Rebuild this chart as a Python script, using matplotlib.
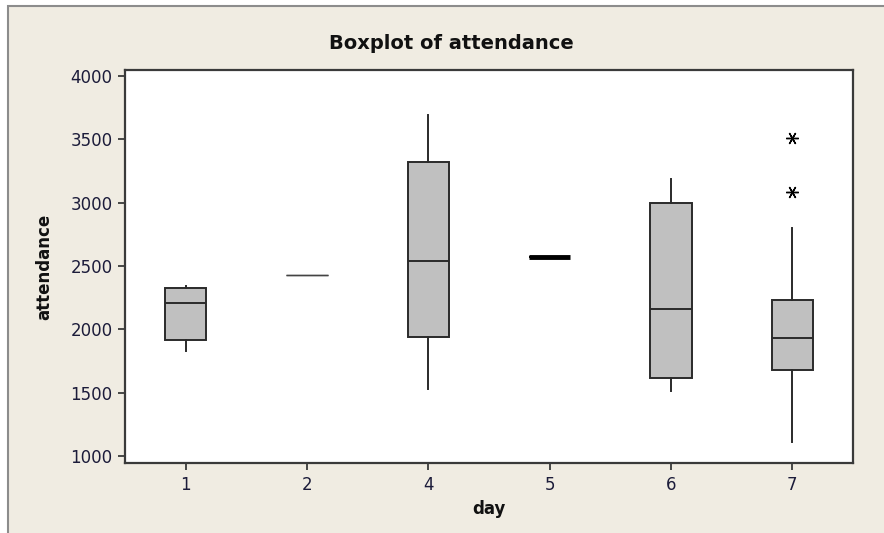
import numpy as np
import matplotlib
matplotlib.use("Agg")
import matplotlib.pyplot as plt
from matplotlib.patches import Rectangle

# values
days = ["1", "2", "4", "5", "6", "7"]
q1 = [1912, 2427, 1943, 2573, 1614, 1682]
med = [2208, 2427, 2538, 2573, 2163, 1933]
q3 = [2330, 2427, 3318, 2573, 2998, 2229]
whislo = [1830, 2427, 1526, 2573, 1513, 1111]
whishi = [2345, 2427, 3693, 2573, 3186, 2803]
fliers = [[], [], [], [], [], [3511, 3083]]

beige = "#F0ECE2"
txt = "#1c1c3a"

fig = plt.figure(figsize=(8.84, 5.33), dpi=100)
fig.patch.set_facecolor("white")
bg = Rectangle((8 / 884, -0.01), 1.0, 1 - 6 / 533 + 0.01,
               transform=fig.transFigure, facecolor=beige,
               edgecolor="#8c8c8c", linewidth=1.5, zorder=-10)
fig.patches.append(bg)

ax = fig.add_axes([125 / 884, 70 / 533, 728 / 884, 393 / 533])
ax.set_zorder(5)
ax.set_facecolor("white")

stats = []
for i in range(len(days)):
    stats.append(dict(label=days[i], q1=q1[i], med=med[i], q3=q3[i],
                      whislo=whislo[i], whishi=whishi[i], fliers=fliers[i]))

bp = ax.bxp(stats, positions=range(len(days)), widths=0.34, showcaps=False,
            patch_artist=True,
            boxprops=dict(facecolor="#C0C0C0", edgecolor="#2a2a2a", linewidth=1.4),
            medianprops=dict(color="#2a2a2a", linewidth=1.4),
            whiskerprops=dict(color="#2a2a2a", linewidth=1.4),
            flierprops=dict(marker=(6, 2, 90), markersize=9, markeredgecolor="black",
                            markeredgewidth=1.0, linestyle="none"))

# day 2 is a single thin line, day 5 a heavy one
bp["boxes"][1].set_edgecolor("#444444")
bp["boxes"][1].set_linewidth(1.0)
bp["medians"][1].set_color("#444444")
bp["medians"][1].set_linewidth(1.0)
bp["boxes"][3].set_edgecolor("black")
bp["medians"][3].set_color("black")
bp["medians"][3].set_linewidth(3.5)

ax.set_xlim(-0.5, len(days) - 0.5)
ax.set_ylim(945, 4047)
ax.set_yticks(np.arange(1000, 4001, 500))
ax.set_xticks(range(len(days)))
ax.set_xticklabels(days)

for s in ax.spines.values():
    s.set_color("#3a3a3a")
    s.set_linewidth(1.6)
ax.tick_params(direction="out", length=5, width=1.3, color="#3a3a3a",
               labelsize=12, labelcolor=txt, pad=4)

fig.text(451 / 884, 1 - 43 / 533, "Boxplot of attendance", ha="center", va="center",
         fontsize=14, fontweight="bold", color="#111111")
ax.set_xlabel("day", fontsize=12, fontweight="bold", color="#111111", labelpad=5)
ax.set_ylabel("attendance", fontsize=12, fontweight="bold", color="#111111", labelpad=12)

fig.savefig("out.png", dpi=100, facecolor=fig.get_facecolor())
